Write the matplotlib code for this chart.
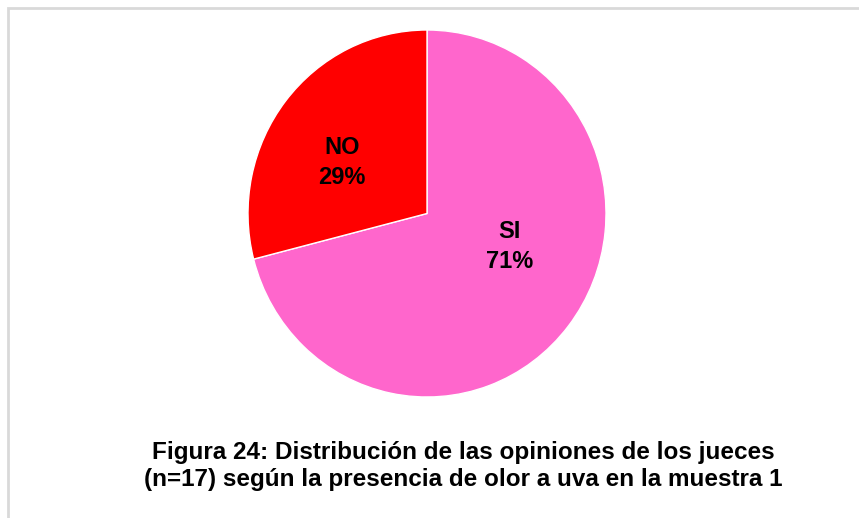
import matplotlib
matplotlib.use("Agg")
from matplotlib import pyplot as plt
from matplotlib.patches import Rectangle

categorias = ["SI", "NO"]
porcentajes = [71, 29]
colores = ["#FF66CC", "#FF0000"]
titulo = ("Figura 24: Distribución de las opiniones de los jueces\n"
          "(n=17) según la presencia de olor a uva en la muestra 1")


def main():
	fig = plt.figure(figsize=(8.59, 5.18), dpi=100)

	# marco gris (solo se ven arriba e izquierda)
	fig.patches.append(Rectangle((8 / 859, -0.1), 2, 1.1 - 8 / 518, transform=fig.transFigure,
								 fill=False, edgecolor="#D9D9D9", linewidth=2))

	ax = fig.add_axes([248 / 859, 121 / 518, 358 / 859, 367 / 518])
	wedges, _ = ax.pie(porcentajes, colors=colores, startangle=90, counterclock=False,
					   wedgeprops=dict(edgecolor="white", linewidth=1))
	ax.set_aspect("auto")
	ax.set_xlim(-1, 1)
	ax.set_ylim(-1, 1)

	# posiciones de las etiquetas (estilo "mejor ajuste")
	pos_etiquetas = [(0.46, -0.18), (-0.475, 0.28)]
	for cat, p, (x, y) in zip(categorias, porcentajes, pos_etiquetas):
		ax.text(x, y, "%s\n%d%%" % (cat, p), ha="center", va="center",
				fontsize=17, fontweight="bold", linespacing=1.4,
				family=["Liberation Sans", "DejaVu Sans"])

	fig.text(463 / 859, 1 - 466 / 518, titulo, ha="center", va="center",
			 fontsize=17.5, fontweight="bold", linespacing=1.22,
			 family=["Liberation Sans", "DejaVu Sans"])

	plt.savefig("out.png", dpi=100)


if __name__ == '__main__':
	main()
